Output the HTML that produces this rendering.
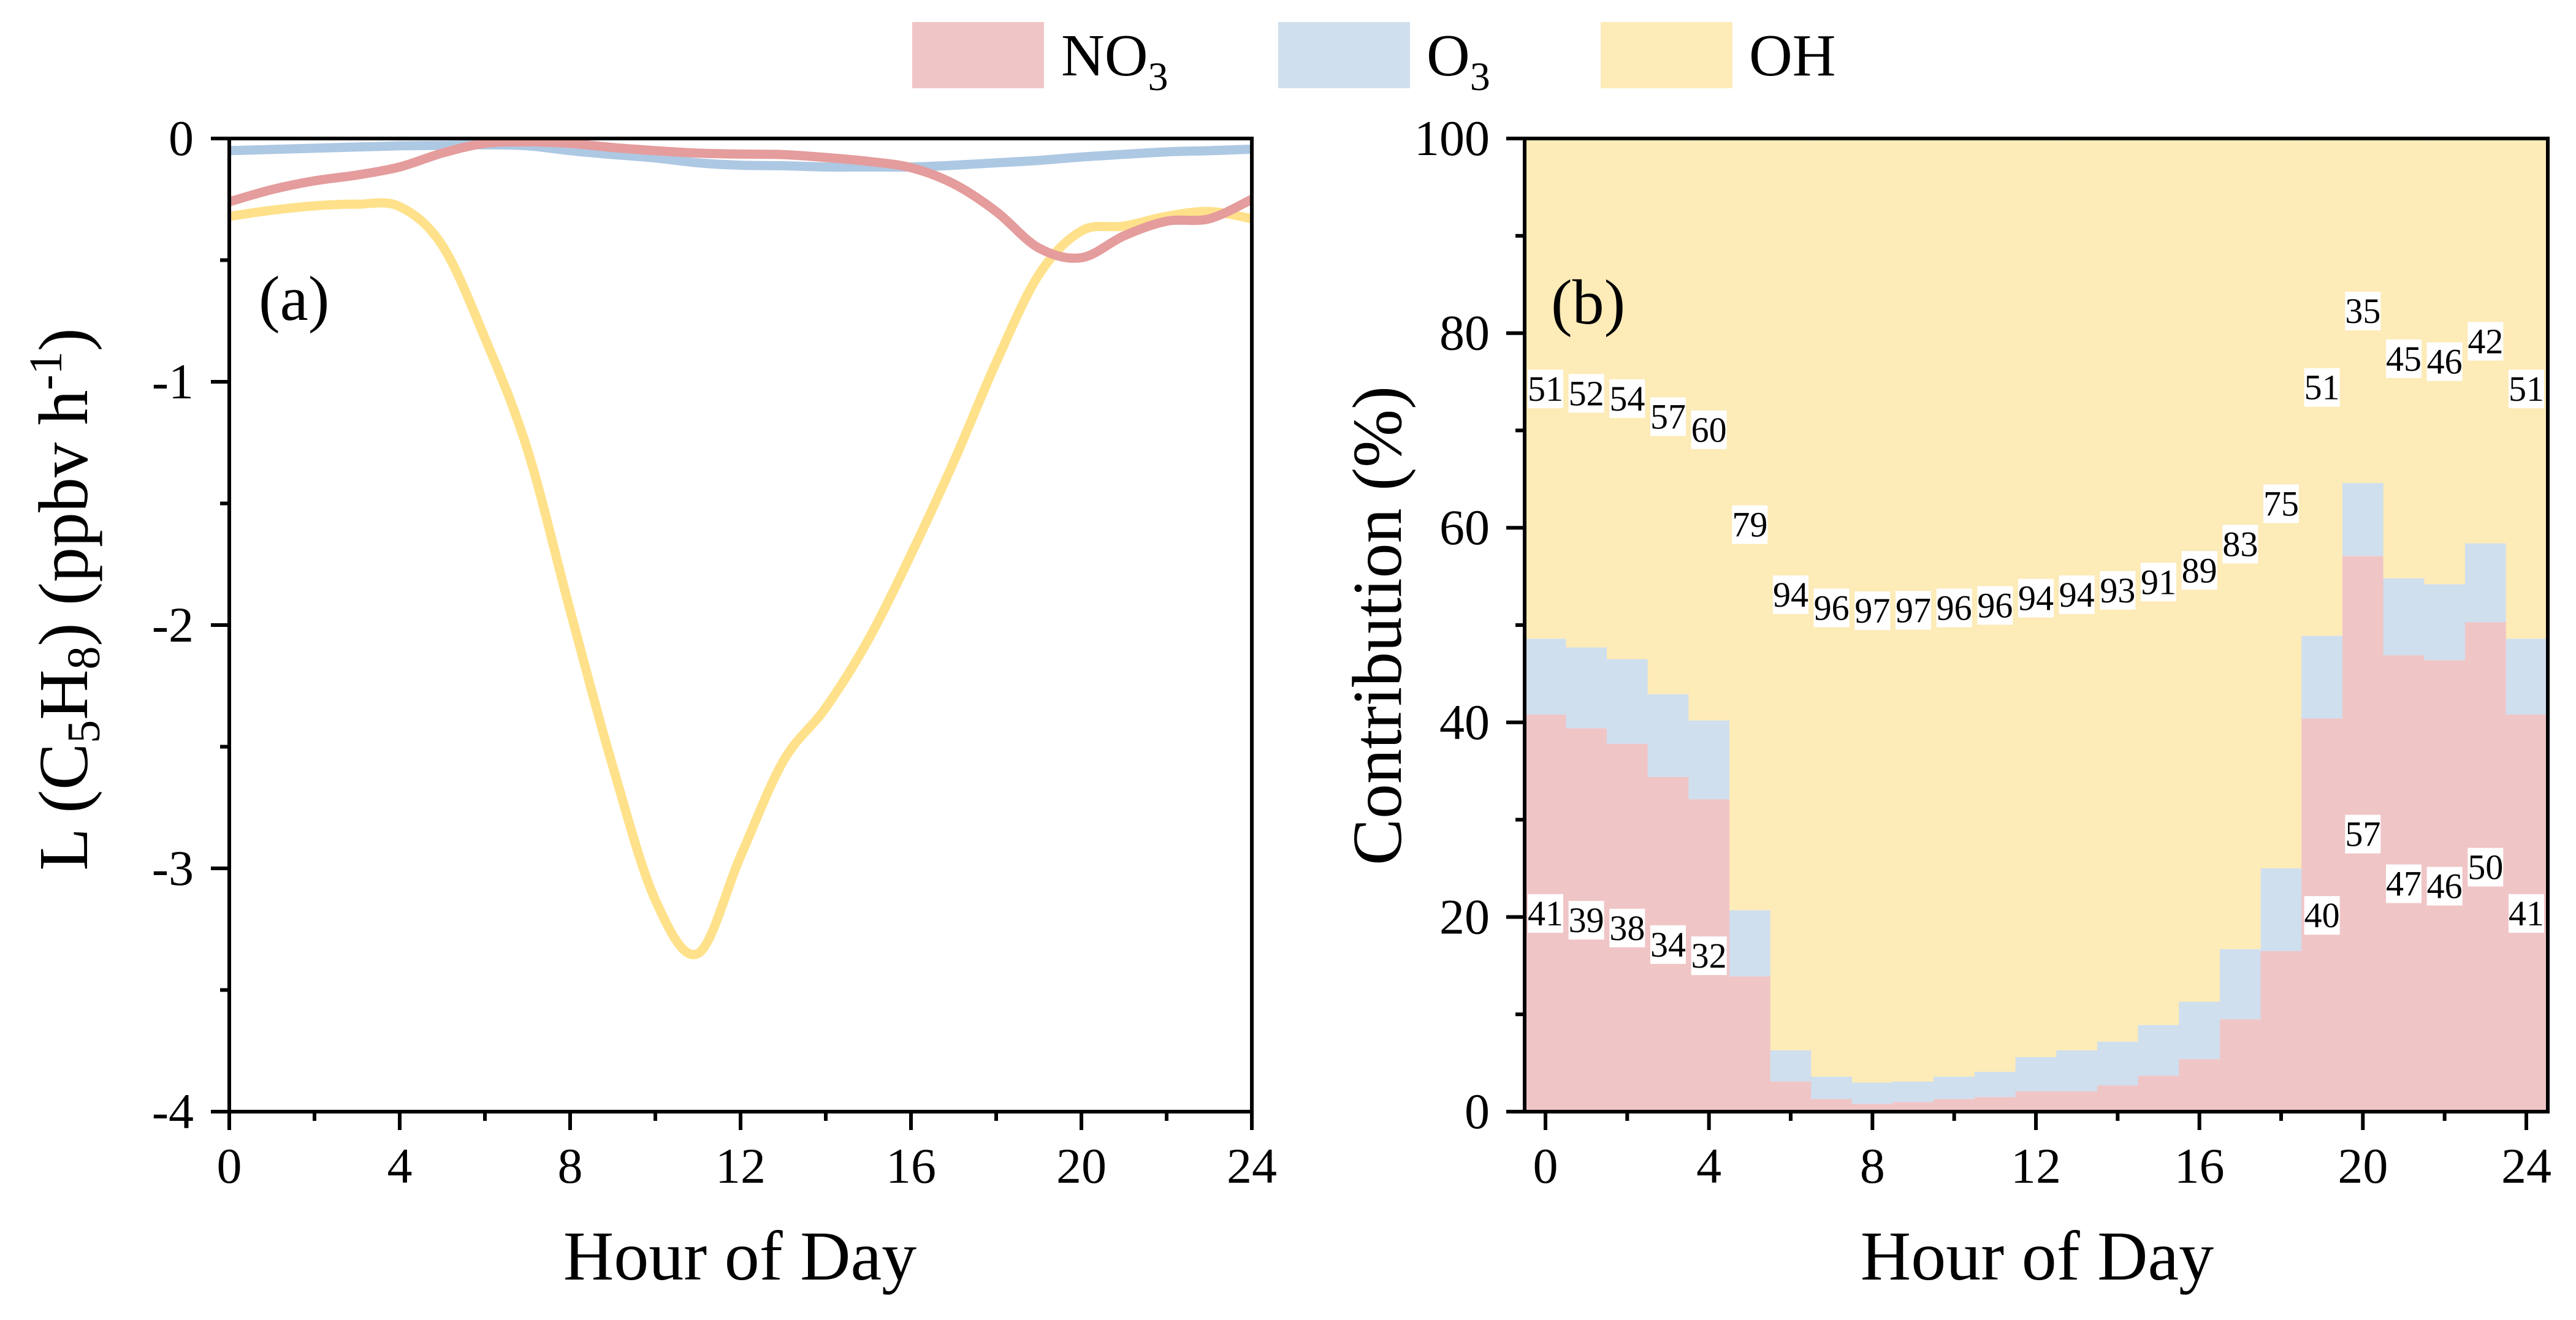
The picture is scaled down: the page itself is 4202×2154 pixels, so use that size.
<!DOCTYPE html>
<html><head><meta charset="utf-8"><style>
html,body{margin:0;padding:0;background:#fff;}
svg{display:block;font-family:"Liberation Serif","Times New Roman",serif;}
</style></head><body>
<svg id="fig" width="4202" height="2154" viewBox="0 0 4202 2154" xmlns="http://www.w3.org/2000/svg">
<g>
  <g>
    <rect x="1488" y="36" width="215" height="108" fill="#f0c5c6"/>
    <text x="1731" y="123" font-size="98">NO<tspan font-size="66" dy="24">3</tspan></text>
  </g>
  <g>
    <rect x="2085" y="36" width="215" height="108" fill="#cfdfee"/>
    <text x="2327" y="123" font-size="98">O<tspan font-size="66" dy="24">3</tspan></text>
  </g>
  <g>
    <rect x="2611" y="36" width="215" height="108" fill="#fdebb8"/>
    <text x="2853" y="123" font-size="98">OH</text>
  </g>
</g>
<g id="panelA"></g>
<g id="panelB"></g>
</svg>
<script>
// ---------- Panel (a) data ----------
const hoursA = [0,1,2,3,4,5,6,7,8,9,10,11,12,13,14,15,16,17,18,19,20,21,22,23,24];
const lossOH = [-0.32,-0.295,-0.277,-0.27,-0.28,-0.44,-0.82,-1.28,-1.94,-2.58,-3.13,-3.35,-2.95,-2.56,-2.34,-2.06,-1.71,-1.33,-0.92,-0.56,-0.38,-0.36,-0.32,-0.30,-0.33];
const lossNO3 = [-0.26,-0.21,-0.174,-0.15,-0.117,-0.06,-0.02,-0.014,-0.02,-0.037,-0.05,-0.06,-0.064,-0.066,-0.078,-0.094,-0.12,-0.186,-0.30,-0.45,-0.49,-0.40,-0.34,-0.33,-0.25];
const lossO3 = [-0.05,-0.045,-0.04,-0.035,-0.03,-0.028,-0.026,-0.03,-0.05,-0.066,-0.08,-0.10,-0.11,-0.112,-0.117,-0.117,-0.117,-0.11,-0.10,-0.09,-0.076,-0.065,-0.055,-0.05,-0.044];
const yTicksA = [0,-1,-2,-3,-4];
const xTicks = [0,4,8,12,16,20,24];
// ---------- Panel (b) data ----------
const hoursB = [0,1,2,3,4,5,6,7,8,9,10,11,12,13,14,15,16,17,18,19,20,21,22,23,24];
const shareNO3 = [40.8,39.4,37.8,34.4,32.1,13.9,3.1,1.3,0.8,1.0,1.3,1.5,2.1,2.1,2.7,3.7,5.4,9.5,16.5,40.4,57.1,46.9,46.4,50.3,40.8];
const shareO3 = [7.8,8.3,8.7,8.5,8.1,6.8,3.2,2.3,2.2,2.1,2.3,2.6,3.5,4.2,4.5,5.2,5.9,7.2,8.5,8.5,7.5,7.9,7.8,8.1,7.8];
const shareOH = [51.4,52.3,53.6,57.1,59.8,79.3,93.7,96.4,97.0,96.9,96.4,95.9,94.4,93.7,92.8,91.1,88.7,83.3,75.0,51.1,35.4,45.2,45.8,41.6,51.4];
const yTicksB = [0,20,40,60,80,100];

const NS = "http://www.w3.org/2000/svg";
function mk(tag, attrs, parent){ const e=document.createElementNS(NS,tag); for(const k in attrs) e.setAttribute(k,attrs[k]); if(parent) parent.appendChild(e); return e; }

// ---------- Panel A ----------
const A = {x0:374, x1:2042, y0:226, y1:1814};
const xA = h => A.x0 + (h/24)*(A.x1-A.x0);
const yA = v => A.y0 + (-v/4)*(A.y1-A.y0);
const gA = document.getElementById('panelA');

function smoothPath(xs, ys){
  const p = xs.map((x,i)=>[x,ys[i]]);
  let d = `M${p[0][0]},${p[0][1]}`;
  for(let i=0;i<p.length-1;i++){
    const p0=p[Math.max(i-1,0)], p1=p[i], p2=p[i+1], p3=p[Math.min(i+2,p.length-1)];
    const c1=[p1[0]+(p2[0]-p0[0])/6, p1[1]+(p2[1]-p0[1])/6];
    const c2=[p2[0]-(p3[0]-p1[0])/6, p2[1]-(p3[1]-p1[1])/6];
    d += ` C${c1[0]},${c1[1]} ${c2[0]},${c2[1]} ${p2[0]},${p2[1]}`;
  }
  return d;
}
const clipA = mk('clipPath',{id:'clipA'},gA);
mk('rect',{x:A.x0,y:A.y0-20,width:A.x1-A.x0,height:A.y1-A.y0+40},clipA);
const lines = mk('g',{'clip-path':'url(#clipA)'},gA);
const lO3 = mk('path',{d:smoothPath(hoursA.map(xA), lossO3.map(yA)), fill:'none', stroke:'#adc8e3','stroke-width':15},lines);


const lOH = mk('path',{d:smoothPath(hoursA.map(xA), lossOH.map(yA)), fill:'none', stroke:'#fee18a','stroke-width':15},lines);


const lNO3 = mk('path',{d:smoothPath(hoursA.map(xA), lossNO3.map(yA)), fill:'none', stroke:'#e59c9c','stroke-width':15},lines);



function axesBox(P, g){
  const b = mk('rect',{x:P.x0,y:P.y0,width:P.x1-P.x0,height:P.y1-P.y0,fill:'none',stroke:'#000','stroke-width':6},g);
  
  
}
axesBox(A,gA);
// x ticks A
for(let h=0;h<=24;h+=2){
  const major = h%4===0;
  mk('line',{x1:xA(h),x2:xA(h),y1:A.y1,y2:A.y1+(major?30:15),stroke:'#000','stroke-width':6},gA);
}
xTicks.forEach(h=>{
  const t=mk('text',{x:xA(h),y:1930,'font-size':82,'text-anchor':'middle'},gA); t.textContent=h;
  
  
});
for(let v=0;v>=-4;v-=0.5){
  const major = Math.abs(v%1)<1e-9;
  mk('line',{x1:A.x0,x2:A.x0-(major?30:15),y1:yA(v),y2:yA(v),stroke:'#000','stroke-width':6},gA);
}
yTicksA.forEach(v=>{
  const t=mk('text',{x:316,y:yA(v)+27,'font-size':82,'text-anchor':'end'},gA); t.textContent=v;
  
  
});
const la = mk('text',{x:422,y:522,'font-size':104},gA); la.textContent='(a)';


const xtA = mk('text',{x:1207,y:2088,'font-size':114,'text-anchor':'middle'},gA); xtA.textContent='Hour of Day';


const ytA = mk('text',{transform:'translate(142,978) rotate(-90)','font-size':114,'text-anchor':'middle'},gA);
ytA.innerHTML='L (C<tspan font-size="76" dy="20">5</tspan><tspan dy="-20">H</tspan><tspan font-size="76" dy="20">8</tspan><tspan dy="-20">) (ppbv h</tspan><tspan font-size="76" dy="-42">-1</tspan><tspan dy="42">)</tspan>';



// ---------- Panel B ----------
const B = {x0:2487, x1:4156, y0:226, y1:1814};
const xB = h => 2521 + (h/24)*1600;
const yB = v => B.y1 - (v/100)*(B.y1-B.y0);
const bw = 1600/24;
const gB = document.getElementById('panelB');
hoursB.forEach((h,i)=>{
  const n=shareNO3[i], o=shareO3[i], w=shareOH[i];
  const x = xB(h)-bw/2;
  const r1=mk('rect',{x:x,y:yB(n),width:bw+0.5,height:yB(0)-yB(n),fill:'#f0c5c6'},gB);
  
  
  const r2=mk('rect',{x:x,y:yB(n+o),width:bw+0.5,height:yB(n)-yB(n+o),fill:'#cfdfee'},gB);
  
  
  const r3=mk('rect',{x:x,y:yB(n+o+w),width:bw+0.5,height:yB(n+o)-yB(n+o+w),fill:'#fdebb8'},gB);
  
  
});
function valLabel(h, v, txt){
  const g=mk('g',{},gB);
  
  
  const cy=yB(v);
  mk('rect',{x:xB(h)-29,y:cy-31,width:58,height:63,fill:'#fff'},g);
  const t=mk('text',{x:xB(h),y:cy+20,'font-size':58,'text-anchor':'middle'},g); t.textContent=txt;
}
hoursB.forEach((h,i)=>{
  const n=shareNO3[i], o=shareO3[i], w=shareOH[i];
  valLabel(h, n+o+w/2, Math.round(w));
  if(n>=20) valLabel(h, n/2, Math.round(n));
});
axesBox(B,gB);
for(let h=0;h<=24;h+=2){
  const major = h%4===0;
  mk('line',{x1:xB(h),x2:xB(h),y1:B.y1,y2:B.y1+(major?30:15),stroke:'#000','stroke-width':6},gB);
}
xTicks.forEach(h=>{
  const t=mk('text',{x:xB(h),y:1930,'font-size':82,'text-anchor':'middle'},gB); t.textContent=h;
  
  
});
for(let v=0;v<=100;v+=10){
  const major = v%20===0;
  mk('line',{x1:B.x0,x2:B.x0-(major?30:15),y1:yB(v),y2:yB(v),stroke:'#000','stroke-width':6},gB);
}
yTicksB.forEach(v=>{
  const t=mk('text',{x:2430,y:yB(v)+27,'font-size':82,'text-anchor':'end'},gB); t.textContent=v;
  
  
});
const lb = mk('text',{x:2530,y:528,'font-size':104},gB); lb.textContent='(b)';


const xtB = mk('text',{x:3323,y:2088,'font-size':114,'text-anchor':'middle'},gB); xtB.textContent='Hour of Day';


const ytB = mk('text',{transform:'translate(2285,1021) rotate(-90)','font-size':114,'text-anchor':'middle'},gB); ytB.textContent='Contribution (%)';


</script>
</body></html>
